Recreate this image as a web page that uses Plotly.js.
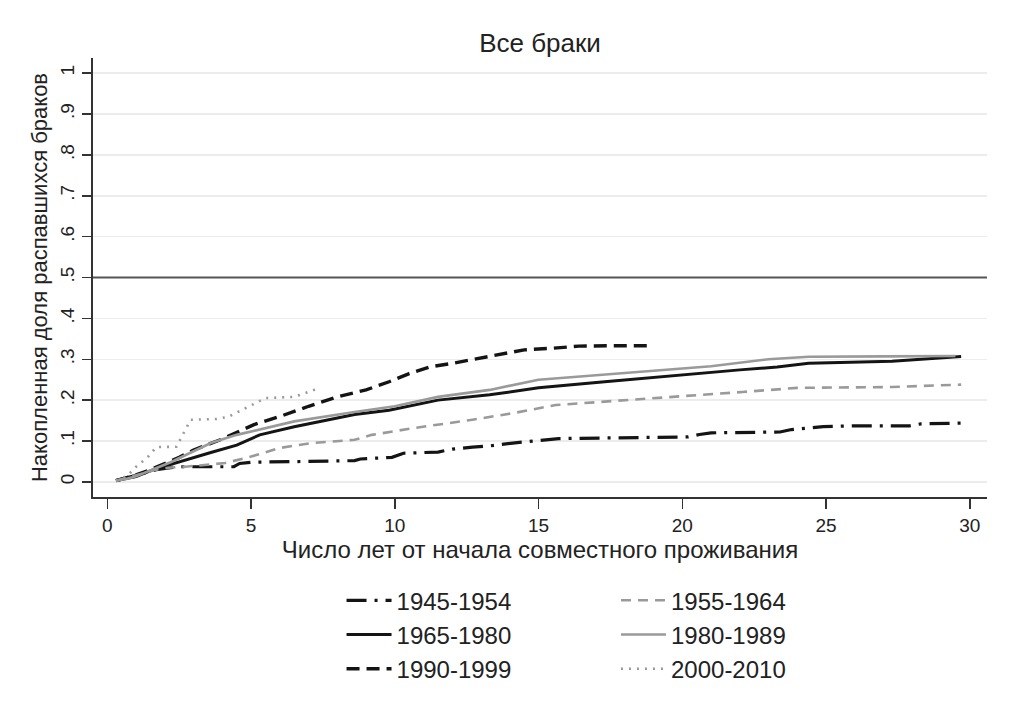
<!DOCTYPE html>
<html>
<head>
<meta charset="utf-8">
<script src="https://cdn.plot.ly/plotly-3.0.1.min.js"></script>
<style>
  body { margin: 0; background: #fff; }
  #chart { width: 1032px; height: 712px; }
</style>
</head>
<body>
<div id="chart"></div>
<script>
// Kaplan-Meier style curves
const x1945 = [0.3, 0.7, 1.2, 1.7, 2.2, 2.6, 4.4, 4.6, 5.0, 8.6, 8.8, 9.9, 10.3, 11.5, 12.0, 12.7, 13.3, 14.1, 14.9, 15.7, 20.2, 20.6, 21.0, 23.4, 23.8, 24.3, 24.9, 25.9, 27.9, 28.3, 29.8];
const y1945 = [0.003, 0.01, 0.02, 0.03, 0.035, 0.037, 0.037, 0.045, 0.048, 0.052, 0.056, 0.060, 0.070, 0.073, 0.080, 0.085, 0.088, 0.095, 0.100, 0.106, 0.110, 0.116, 0.120, 0.122, 0.128, 0.131, 0.135, 0.137, 0.137, 0.142, 0.144];

const x1955 = [0.3, 0.7, 1.2, 1.7, 2.2, 2.7, 3.2, 3.7, 4.1, 5.0, 6.0, 7.1, 8.0, 8.6, 9.2, 10.7, 12.7, 14.1, 15.6, 17.3, 19.3, 22.1, 24.0, 27.3, 29.7];
const y1955 = [0.003, 0.01, 0.02, 0.03, 0.035, 0.037, 0.04, 0.043, 0.046, 0.062, 0.083, 0.095, 0.100, 0.103, 0.115, 0.132, 0.152, 0.168, 0.188, 0.196, 0.205, 0.220, 0.230, 0.232, 0.238];

const x1965 = [0.3, 0.7, 1.0, 1.6, 2.2, 3.0, 3.6, 4.5, 5.3, 6.5, 8.0, 8.6, 9.8, 11.5, 13.3, 15.0, 17.3, 19.3, 20.6, 22.0, 23.3, 24.4, 27.3, 29.7];
const y1965 = [0.003, 0.008, 0.013, 0.03, 0.043, 0.06, 0.072, 0.09, 0.115, 0.135, 0.156, 0.165, 0.175, 0.200, 0.213, 0.230, 0.245, 0.258, 0.266, 0.274, 0.281, 0.290, 0.295, 0.307];

const x1980 = [0.3, 0.7, 1.0, 1.6, 2.2, 3.0, 3.6, 4.5, 5.5, 6.5, 8.6, 10.0, 11.5, 13.3, 15.0, 17.3, 19.3, 21.0, 23.0, 24.4, 27.0, 29.5];
const y1980 = [0.003, 0.008, 0.014, 0.032, 0.048, 0.075, 0.095, 0.115, 0.132, 0.148, 0.171, 0.185, 0.208, 0.225, 0.250, 0.262, 0.274, 0.283, 0.300, 0.306, 0.307, 0.308];

const x1990 = [0.3, 0.7, 1.0, 1.5, 2.0, 2.5, 3.0, 4.0, 5.1, 6.0, 7.0, 8.0, 9.0, 9.8, 10.5, 11.2, 12.0, 13.0, 14.0, 14.5, 15.5, 16.4, 17.5, 18.9];
const y1990 = [0.003, 0.01, 0.017, 0.03, 0.045, 0.06, 0.078, 0.105, 0.140, 0.160, 0.185, 0.208, 0.225, 0.245, 0.265, 0.281, 0.290, 0.303, 0.315, 0.323, 0.327, 0.332, 0.333, 0.333];

const x2000 = [0.3, 0.7, 1.0, 1.4, 1.7, 2.4, 2.9, 3.8, 4.2, 5.5, 6.5, 7.4];
const y2000 = [0.003, 0.015, 0.037, 0.06, 0.085, 0.086, 0.152, 0.154, 0.159, 0.205, 0.208, 0.230];

const yTickVals = [0, 0.1, 0.2, 0.3, 0.4, 0.5, 0.6, 0.7, 0.8, 0.9, 1];
const yTickText = ['0', '.1', '.2', '.3', '.4', '.5', '.6', '.7', '.8', '.9', '1'];
const xTickVals = [0, 5, 10, 15, 20, 25, 30];

const BLACK = '#141414';
const GRAY = '#9a9a9a';

function curve(x, y, name, color, dash, width, legend) {
    return {
        x: x,
        y: y,
        name: name,
        type: 'scatter',
        mode: 'lines',
        line: { color: color, dash: dash, width: width },
        legend: legend,
        hoverinfo: 'skip'
    };
}

const traces = [
    curve(x1945, y1945, '1945-1954', BLACK, '20px,8px,3px,8px', 3.2, 'legend'),
    curve(x1965, y1965, '1965-1980', BLACK, 'solid', 3, 'legend'),
    curve(x1990, y1990, '1990-1999', BLACK, '13px,7px', 3.4, 'legend'),
    curve(x1955, y1955, '1955-1964', GRAY, '10px,7px', 2.6, 'legend2'),
    curve(x1980, y1980, '1980-1989', GRAY, 'solid', 2.6, 'legend2'),
    curve(x2000, y2000, '2000-2010', GRAY, '2px,6px', 2.6, 'legend2')
];

const legendStyle = {
    orientation: 'v',
    xanchor: 'left',
    yanchor: 'top',
    y: -0.185,
    itemwidth: 45,
    font: { family: 'Liberation Sans, Arial, sans-serif', size: 24, color: '#222' },
    bgcolor: 'rgba(0,0,0,0)',
    tracegroupgap: 0
};

const layout = {
    width: 1032,
    height: 712,
    paper_bgcolor: '#ffffff',
    plot_bgcolor: '#ffffff',
    font: { family: 'Liberation Sans, Arial, sans-serif', color: '#222' },
    title: {
        text: 'Все браки',
        font: { size: 26, color: '#222' },
        x: 0.5,
        xref: 'paper',
        y: 0.94,
        yanchor: 'middle'
    },
    margin: { l: 93, r: 45, t: 58, b: 215 },
    xaxis: {
        range: [-0.5, 30.6],
        tickvals: xTickVals,
        ticks: 'outside',
        ticklen: 10,
        tickwidth: 1.5,
        tickcolor: '#333',
        showline: true,
        linecolor: '#333',
        linewidth: 2,
        showgrid: false,
        zeroline: false,
        tickfont: { size: 19 },
        title: {
            text: 'Число лет от начала совместного проживания',
            font: { size: 24 },
            standoff: 0
        }
    },
    yaxis: {
        range: [-0.037, 1.037],
        tickvals: yTickVals,
        ticktext: yTickText,
        tickangle: -90,
        ticks: 'outside',
        ticklen: 9,
        tickwidth: 1.5,
        tickcolor: '#333',
        showline: true,
        linecolor: '#333',
        linewidth: 2,
        showgrid: true,
        gridcolor: '#ececec',
        gridwidth: 1.5,
        zeroline: false,
        tickfont: { size: 19 },
        title: {
            text: 'Накопленная доля распавшихся браков',
            font: { size: 22 },
            standoff: 4
        }
    },
    shapes: [{
        type: 'line',
        xref: 'paper',
        x0: 0,
        x1: 1,
        yref: 'y',
        y0: 0.5,
        y1: 0.5,
        line: { color: '#555', width: 2 }
    }],
    legend: Object.assign({ x: 0.278 }, legendStyle),
    legend2: Object.assign({ x: 0.585 }, legendStyle)
};

Plotly.newPlot('chart', traces, layout, { displayModeBar: false, staticPlot: true });
</script>
</body>
</html>
